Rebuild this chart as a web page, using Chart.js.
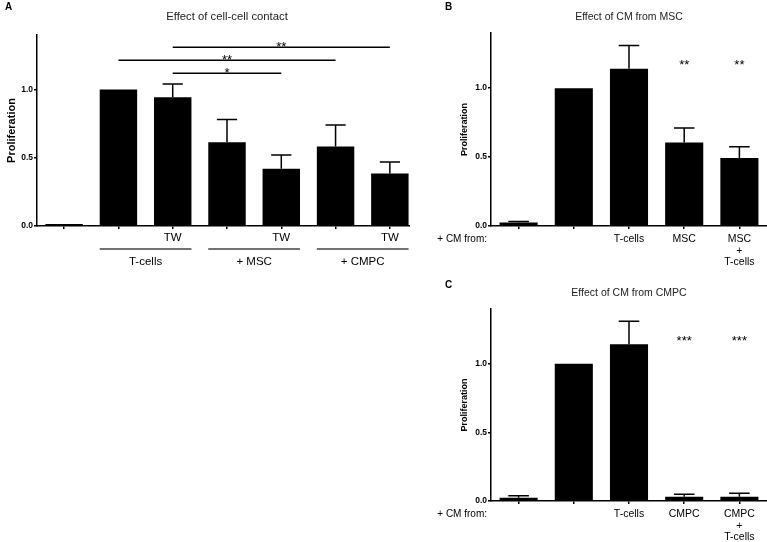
<!DOCTYPE html>
<html>
<head>
<meta charset="utf-8">
<script src="https://cdn.jsdelivr.net/npm/chart.js@4.4.1/dist/chart.umd.min.js"></script>
<style>
  html, body { margin: 0; padding: 0; background: #fff; }
  #page { position: relative; width: 767px; height: 542px; overflow: hidden; }
  .panel { position: absolute; overflow: hidden; }
</style>
</head>
<body>
<div id="page">
  <div class="panel" style="left:0;top:0;width:410px;height:275px"><canvas id="chartA" width="420" height="275"></canvas></div>
  <div class="panel" style="left:400px;top:0;width:367px;height:275px"><canvas id="chartB" width="367" height="275"></canvas></div>
  <div class="panel" style="left:400px;top:270px;width:367px;height:272px"><canvas id="chartC" width="367" height="272"></canvas></div>
</div>
<script>
// panel A - cell-cell contact
const aLabels = ['', '', 'TW', '', 'TW', '', 'TW'];
const aValues = [0.015, 1.0, 0.943, 0.613, 0.42, 0.583, 0.385];
const aErrors = [0, 0, 0.097, 0.167, 0.10, 0.157, 0.085];
const aGroups = ['T-cells', '+ MSC', '+ CMPC'];
// significance brackets: [from bar, to bar, height, label]
const aSig = [
  [2, 6, 1.31, '**'],
  [1, 5, 1.215, '**'],
  [2, 4, 1.12, '*']
];

// panel B - CM from MSC
const bLabels = ['', '', 'T-cells', 'MSC', ['MSC', '+', 'T-cells']];
const bValues = [0.025, 1.0, 1.14, 0.605, 0.494];
const bErrors = [0.008, 0, 0.17, 0.105, 0.08];
const bStars = ['', '', '', '**', '**'];

// panel C - CM from CMPC
const cLabels = ['', '', 'T-cells', 'CMPC', ['CMPC', '+', 'T-cells']];
const cValues = [0.024, 1.0, 1.143, 0.031, 0.031];
const cErrors = [0.014, 0, 0.167, 0.018, 0.025];
const cStars = ['', '', '', '***', '***'];

const yTicks = [0, 0.5, 1.0];
const starLevel = 1.19;
const FONT = "'Liberation Sans', Arial, Helvetica, sans-serif";

const extras = {
  id: 'extras',
  afterDatasetsDraw(chart, args, opts) {
    const ctx = chart.ctx;
    const meta = chart.getDatasetMeta(0);
    const y = chart.scales.y;
    const area = chart.chartArea;
    const vals = chart.data.datasets[0].data;
    ctx.save();
    ctx.strokeStyle = '#000';
    ctx.fillStyle = '#000';
    ctx.lineWidth = 1.5;

    // error bars (upper half only)
    (opts.errors || []).forEach((e, i) => {
      if (!e) return;
      const bar = meta.data[i];
      const top = y.getPixelForValue(vals[i] + e);
      const half = bar.width * 0.27;
      ctx.beginPath();
      ctx.moveTo(bar.x, y.getPixelForValue(vals[i]));
      ctx.lineTo(bar.x, top);
      ctx.moveTo(bar.x - half, top);
      ctx.lineTo(bar.x + half, top);
      ctx.stroke();
    });

    // significance brackets
    ctx.textAlign = 'center';
    ctx.textBaseline = 'alphabetic';
    ctx.font = '13px ' + FONT;
    (opts.sig || []).forEach(s => {
      const py = y.getPixelForValue(s[2]);
      const x1 = meta.data[s[0]].x, x2 = meta.data[s[1]].x;
      ctx.beginPath();
      ctx.moveTo(x1, py);
      ctx.lineTo(x2, py);
      ctx.stroke();
      ctx.fillText(s[3], (x1 + x2) / 2, py + 3.5);
    });

    // stars over single bars
    (opts.stars || []).forEach((s, i) => {
      if (!s) return;
      ctx.fillText(s, meta.data[i].x, y.getPixelForValue(starLevel) + 7);
    });

    // group lines + labels under the axis
    if (opts.groups) {
      ctx.font = '11.5px ' + FONT;
      ctx.textBaseline = 'middle';
      opts.groups.forEach((g, k) => {
        const b1 = meta.data[1 + k * 2], b2 = meta.data[2 + k * 2];
        const x1 = b1.x - b1.width / 2, x2 = b2.x + b2.width / 2;
        ctx.strokeStyle = '#444';
        ctx.beginPath();
        ctx.moveTo(x1, area.bottom + 23);
        ctx.lineTo(x2, area.bottom + 23);
        ctx.stroke();
        ctx.fillText(g, (x1 + x2) / 2, area.bottom + 36);
      });
    }

    // row caption left of the axis
    if (opts.rowLabel) {
      ctx.font = '10px ' + FONT;
      ctx.textAlign = 'right';
      ctx.textBaseline = 'middle';
      ctx.fillText(opts.rowLabel, area.left - 4, area.bottom + 13);
    }

    // title and panel letter
    ctx.textAlign = 'center';
    ctx.textBaseline = 'middle';
    ctx.fillStyle = '#222';
    ctx.font = opts.titleSize + 'px ' + FONT;
    ctx.fillText(opts.title, (area.left + area.right) / 2, opts.titleY);
    ctx.fillStyle = '#000';
    ctx.textAlign = 'left';
    ctx.font = 'bold 10px ' + FONT;
    ctx.fillText(opts.letter, opts.letterX, opts.letterY);
    ctx.restore();
  }
};

function makePanel(id, labels, values, p) {
  const axisLine = { display: true, color: '#000', width: 1.5 };
  const tickGrid = { display: true, drawOnChartArea: false, offset: false, tickLength: 3, color: '#000', lineWidth: 1.5 };
  return new Chart(document.getElementById(id), {
    type: 'bar',
    data: {
      labels: labels,
      datasets: [{
        data: values,
        backgroundColor: '#000',
        borderWidth: 0,
        barPercentage: 0.69,
        categoryPercentage: 1
      }]
    },
    options: {
      responsive: false,
      animation: false,
      devicePixelRatio: 1,
      layout: { padding: { left: p.padLeft, right: p.padRight, top: p.padTop, bottom: 0 } },
      plugins: {
        legend: { display: false },
        tooltip: { enabled: false },
        extras: p.extras
      },
      scales: {
        x: {
          grid: tickGrid,
          border: axisLine,
          ticks: {
            autoSkip: false,
            maxRotation: 0,
            color: '#000',
            padding: p.xPad,
            font: { family: FONT, size: p.xSize, lineHeight: 1.12 }
          },
          afterFit(s) { s.height = p.xHeight; }
        },
        y: {
          min: 0,
          max: 1.4,
          afterBuildTicks(s) { s.ticks = yTicks.map(v => ({ value: v })); },
          grid: tickGrid,
          border: axisLine,
          ticks: {
            color: '#000',
            padding: 1,
            font: { family: FONT, size: 8.5, weight: 'bold' },
            callback: v => v.toFixed(1)
          },
          title: {
            display: true,
            text: 'Proliferation',
            color: '#000',
            padding: { top: 0, bottom: 0 },
            font: { family: FONT, size: p.ySize, weight: 'bold' }
          },
          afterFit(s) { s.width = p.yWidth; }
        }
      }
    },
    plugins: [extras]
  });
}

document.addEventListener('DOMContentLoaded', () => {
  makePanel('chartA', aLabels, aValues, {
    padLeft: 5, padRight: 3, padTop: 35, yWidth: 32, xHeight: 49, xPad: 2, xSize: 11.5, ySize: 11,
    extras: {
      errors: aErrors, sig: aSig, groups: aGroups,
      title: 'Effect of cell-cell contact', titleSize: 11.3, titleY: 17,
      letter: 'A', letterX: 5, letterY: 7
    }
  });
  makePanel('chartB', bLabels, bValues, {
    padLeft: 59, padRight: 0, padTop: 33, yWidth: 32, xHeight: 49, xPad: 4, xSize: 10.5, ySize: 9,
    extras: {
      errors: bErrors, stars: bStars, rowLabel: '+ CM from:',
      title: 'Effect of CM from MSC', titleSize: 10.5, titleY: 17,
      letter: 'B', letterX: 45, letterY: 7
    }
  });
  makePanel('chartC', cLabels, cValues, {
    padLeft: 59, padRight: 0, padTop: 39, yWidth: 32, xHeight: 41, xPad: 4, xSize: 10.5, ySize: 9,
    extras: {
      errors: cErrors, stars: cStars, rowLabel: '+ CM from:',
      title: 'Effect of CM from CMPC', titleSize: 10.5, titleY: 23,
      letter: 'C', letterX: 45, letterY: 15
    }
  });
});
</script>
</body>
</html>
